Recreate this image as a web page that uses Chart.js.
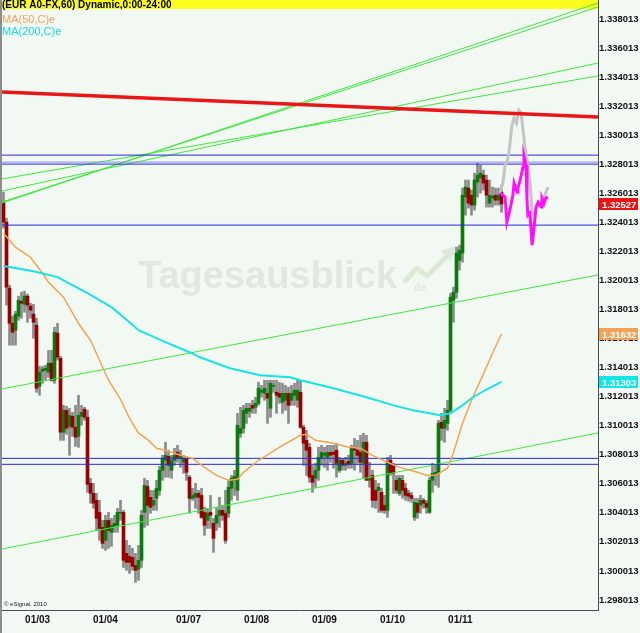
<!DOCTYPE html>
<html>
<head>
<meta charset="utf-8">
<script src="https://cdn.jsdelivr.net/npm/chart.js@4.4.1/dist/chart.umd.min.js"></script>
<style>
  html, body { margin: 0; padding: 0; background: #f2f8f2; overflow: hidden; }
  canvas { display: block; }
</style>
</head>
<body>
<canvas id="chart" width="640" height="633"></canvas>
<script>
const opens = [
  1.32540, 1.32402, 1.31948, 1.31706, 1.31658, 1.31755, 1.31858, 1.31837, 1.31893, 1.31824,
  1.31769, 1.31693, 1.31272, 1.31376, 1.31383, 1.31369, 1.31431, 1.31314, 1.31638, 1.31465,
  1.30956, 1.31107, 1.30997, 1.31066, 1.30990, 1.30928, 1.31066, 1.31114, 1.31059, 1.30604,
  1.30535, 1.30487, 1.30404, 1.30301, 1.30211, 1.30349, 1.30267, 1.30308, 1.30315, 1.30398,
  1.30404, 1.30122, 1.30101, 1.30094, 1.30039, 1.30012, 1.30074, 1.30404, 1.30583, 1.30508,
  1.30453, 1.30501, 1.30556, 1.30694, 1.30763, 1.30790, 1.30694, 1.30763, 1.30818, 1.30776,
  1.30749, 1.30776, 1.30646, 1.30501, 1.30508, 1.30535, 1.30521, 1.30404, 1.30349, 1.30404,
  1.30329, 1.30329, 1.30384, 1.30418, 1.30398, 1.30398, 1.30570, 1.30625, 1.30556, 1.30949,
  1.30983, 1.31086, 1.31100, 1.31141, 1.31128, 1.31155, 1.31231, 1.31224, 1.31224, 1.31121,
  1.31272, 1.31231, 1.31224, 1.31162, 1.31176, 1.31224, 1.31176, 1.31210, 1.31176, 1.31231,
  1.30990, 1.30900, 1.30852, 1.30659, 1.30639, 1.30694, 1.30776, 1.30797, 1.30783, 1.30818,
  1.30818, 1.30832, 1.30694, 1.30763, 1.30728, 1.30756, 1.30742, 1.30852, 1.30832, 1.30818,
  1.30742, 1.30887, 1.30625, 1.30659, 1.30556, 1.30556, 1.30542, 1.30453, 1.30418, 1.30763,
  1.30728, 1.30625, 1.30535, 1.30625, 1.30570, 1.30535, 1.30521, 1.30370, 1.30467, 1.30453,
  1.30487, 1.30467, 1.30404, 1.30625, 1.30659, 1.30673, 1.31024, 1.30983, 1.31017, 1.31107,
  1.31865, 1.31920, 1.32141, 1.32189, 1.32575, 1.32637, 1.32588, 1.32520, 1.32678, 1.32706,
  1.32726, 1.32692, 1.32533, 1.32568, 1.32588, 1.32554, 1.32609
];
const highs = [
  1.32609, 1.32430, 1.31969, 1.31755, 1.31789, 1.31893, 1.31920, 1.31927, 1.31907, 1.31844,
  1.31837, 1.31741, 1.31410, 1.31410, 1.31417, 1.31520, 1.31520, 1.31679, 1.31706, 1.31479,
  1.31141, 1.31135, 1.31121, 1.31093, 1.31141, 1.31210, 1.31141, 1.31128, 1.31107, 1.30639,
  1.30604, 1.30535, 1.30487, 1.30349, 1.30384, 1.30404, 1.30363, 1.30384, 1.30432, 1.30487,
  1.30418, 1.30211, 1.30177, 1.30156, 1.30122, 1.30177, 1.30418, 1.30639, 1.30625, 1.30556,
  1.30556, 1.30625, 1.30721, 1.30797, 1.30887, 1.30832, 1.30797, 1.30845, 1.30866, 1.30832,
  1.30797, 1.30783, 1.30659, 1.30570, 1.30604, 1.30556, 1.30570, 1.30439, 1.30432, 1.30521,
  1.30363, 1.30439, 1.30508, 1.30453, 1.30556, 1.30625, 1.30659, 1.30694, 1.31086, 1.31128,
  1.31141, 1.31155, 1.31155, 1.31176, 1.31197, 1.31300, 1.31279, 1.31314, 1.31314, 1.31314,
  1.31314, 1.31314, 1.31300, 1.31293, 1.31279, 1.31266, 1.31279, 1.31293, 1.31314, 1.31314,
  1.31004, 1.30969, 1.30880, 1.30728, 1.30742, 1.30852, 1.30866, 1.30852, 1.30866, 1.30866,
  1.30866, 1.30880, 1.30783, 1.30776, 1.30783, 1.30797, 1.30866, 1.30914, 1.30900, 1.30935,
  1.30949, 1.30935, 1.30749, 1.30694, 1.30625, 1.30604, 1.30570, 1.30521, 1.30783, 1.30797,
  1.30742, 1.30659, 1.30659, 1.30659, 1.30604, 1.30556, 1.30542, 1.30501, 1.30501, 1.30521,
  1.30501, 1.30487, 1.30646, 1.30742, 1.30728, 1.31038, 1.31086, 1.31121, 1.31176, 1.31913,
  1.31955, 1.32230, 1.32244, 1.32637, 1.32692, 1.32692, 1.32623, 1.32740, 1.32809, 1.32795,
  1.32761, 1.32726, 1.32692, 1.32644, 1.32637, 1.32637, 1.32657
];
const lows = [
  1.32361, 1.31831, 1.31555, 1.31555, 1.31555, 1.31727, 1.31741, 1.31782, 1.31713, 1.31741,
  1.31603, 1.31231, 1.31211, 1.31293, 1.31314, 1.31335, 1.31307, 1.31293, 1.31452, 1.30900,
  1.30900, 1.30942, 1.30797, 1.30928, 1.30859, 1.30852, 1.31004, 1.31038, 1.30542, 1.30467,
  1.30432, 1.30280, 1.30211, 1.30156, 1.30143, 1.30156, 1.30170, 1.30267, 1.30267, 1.30349,
  1.30025, 1.30005, 1.29984, 1.30005, 1.29922, 1.29936, 1.30025, 1.30301, 1.30315, 1.30398,
  1.30418, 1.30418, 1.30521, 1.30625, 1.30646, 1.30646, 1.30639, 1.30728, 1.30749, 1.30714,
  1.30673, 1.30625, 1.30398, 1.30487, 1.30432, 1.30398, 1.30363, 1.30246, 1.30294, 1.30294,
  1.30129, 1.30280, 1.30301, 1.30349, 1.30191, 1.30370, 1.30487, 1.30521, 1.30487, 1.30921,
  1.30949, 1.31017, 1.31059, 1.31086, 1.31086, 1.31141, 1.31197, 1.31176, 1.31017, 1.31059,
  1.31231, 1.31086, 1.31155, 1.31086, 1.31107, 1.31017, 1.31141, 1.31141, 1.31128, 1.30983,
  1.30728, 1.30659, 1.30611, 1.30542, 1.30577, 1.30625, 1.30728, 1.30714, 1.30694, 1.30749,
  1.30708, 1.30646, 1.30680, 1.30694, 1.30694, 1.30708, 1.30708, 1.30694, 1.30742, 1.30680,
  1.30639, 1.30625, 1.30577, 1.30439, 1.30432, 1.30404, 1.30404, 1.30398, 1.30370, 1.30659,
  1.30535, 1.30535, 1.30521, 1.30501, 1.30487, 1.30480, 1.30474, 1.30349, 1.30363, 1.30398,
  1.30432, 1.30398, 1.30398, 1.30542, 1.30590, 1.30577, 1.30900, 1.30887, 1.30969, 1.31086,
  1.31713, 1.31879, 1.32072, 1.32127, 1.32451, 1.32499, 1.32451, 1.32485, 1.32575, 1.32602,
  1.32623, 1.32506, 1.32506, 1.32506, 1.32520, 1.32520, 1.32471
];
const closes = [
  1.32402, 1.31955, 1.31706, 1.31644, 1.31769, 1.31865, 1.31844, 1.31893, 1.31831, 1.31796,
  1.31713, 1.31259, 1.31369, 1.31390, 1.31397, 1.31431, 1.31314, 1.31644, 1.31472, 1.30956,
  1.31107, 1.30983, 1.31072, 1.30990, 1.30921, 1.31072, 1.31093, 1.31059, 1.30597, 1.30535,
  1.30467, 1.30363, 1.30294, 1.30191, 1.30349, 1.30280, 1.30315, 1.30329, 1.30404, 1.30404,
  1.30074, 1.30060, 1.30060, 1.30032, 1.30005, 1.30074, 1.30384, 1.30590, 1.30453, 1.30439,
  1.30487, 1.30570, 1.30694, 1.30776, 1.30797, 1.30728, 1.30763, 1.30797, 1.30783, 1.30797,
  1.30776, 1.30680, 1.30501, 1.30521, 1.30535, 1.30508, 1.30370, 1.30315, 1.30398, 1.30384,
  1.30225, 1.30384, 1.30418, 1.30384, 1.30211, 1.30577, 1.30639, 1.30652, 1.31004, 1.30983,
  1.31107, 1.31121, 1.31121, 1.31121, 1.31155, 1.31259, 1.31245, 1.31259, 1.31190, 1.31293,
  1.31279, 1.31210, 1.31197, 1.31224, 1.31224, 1.31141, 1.31224, 1.31245, 1.31245, 1.30990,
  1.30880, 1.30832, 1.30646, 1.30611, 1.30694, 1.30783, 1.30818, 1.30811, 1.30818, 1.30797,
  1.30804, 1.30742, 1.30763, 1.30728, 1.30742, 1.30735, 1.30845, 1.30832, 1.30797, 1.30749,
  1.30887, 1.30625, 1.30639, 1.30487, 1.30487, 1.30577, 1.30418, 1.30418, 1.30749, 1.30673,
  1.30673, 1.30556, 1.30639, 1.30556, 1.30521, 1.30515, 1.30501, 1.30473, 1.30404, 1.30487,
  1.30467, 1.30439, 1.30625, 1.30673, 1.30680, 1.31017, 1.30983, 1.31038, 1.31107, 1.31886,
  1.31920, 1.32189, 1.32210, 1.32588, 1.32644, 1.32533, 1.32520, 1.32692, 1.32726, 1.32740,
  1.32671, 1.32588, 1.32588, 1.32582, 1.32554, 1.32588, 1.32527
];

// MA(50) und MA(200): Stützpunkte (Kerzenindex, Kurs)
const maFastX = [0, 4, 9, 13, 15, 20, 25, 29, 32, 35, 39, 42, 45, 48, 51, 54, 59, 63, 67, 71, 75, 78, 80, 85,
  93, 99, 101, 104, 110, 115, 119, 123, 128, 132, 138, 141, 144, 148, 149.5, 153, 156, 159.5, 163, 166];
const maFastY = [1.32326, 1.32230, 1.32161, 1.32051, 1.31989, 1.31886, 1.31706, 1.31589, 1.31452, 1.31314,
  1.31183, 1.31052, 1.30949, 1.30907, 1.30845, 1.30832, 1.30797, 1.30776, 1.30714, 1.30659, 1.30625,
  1.30632, 1.30680, 1.30763, 1.30866, 1.30935, 1.30942, 1.30900, 1.30880, 1.30852, 1.30845, 1.30797,
  1.30749, 1.30714, 1.30680, 1.30659, 1.30659, 1.30708, 1.30783, 1.31017, 1.31176, 1.31335, 1.31500, 1.31632];
const maSlowX = [0, 10, 18, 28, 36, 42, 45, 54, 62, 65.5, 75.5, 85.5, 95.5, 99, 110, 121, 130, 136.5, 142,
  145.5, 149, 153, 156, 160.5, 166];
const maSlowY = [1.32100, 1.32065, 1.32024, 1.31914, 1.31817, 1.31713, 1.31658, 1.31576, 1.31507, 1.31472,
  1.31397, 1.31348, 1.31335, 1.31314, 1.31259, 1.31197, 1.31141, 1.31107, 1.31086, 1.31073, 1.31086,
  1.31141, 1.31190, 1.31245, 1.31303];

// Projektionen (grau und magenta)
const projGrayX = [165.5, 166.5, 167.2, 168, 168.7, 169.5, 170.2, 171, 171.8, 172.5, 173.2, 173.8, 174.5,
  175.5, 176.2, 176.7, 177.8, 178.8, 180.2, 181.5];
const projGrayY = [1.32602, 1.32678, 1.32795, 1.32830, 1.32919, 1.33071, 1.33119, 1.33085, 1.33174, 1.33160,
  1.33036, 1.32919, 1.32843, 1.32671, 1.32485, 1.32451, 1.32506, 1.32540, 1.32575, 1.32644];
const projPinkX = [165.5, 167.2, 167.8, 168.8, 169.8, 170.2, 171.2, 171.5, 172.2, 173.2, 173.5, 174.2, 174.5,
  174.8, 175.5, 176.2, 176.8, 177.5, 178.2, 179.2, 179.5, 180.2, 180.8, 181.5];
const projPinkY = [1.32602, 1.32575, 1.32402, 1.32485, 1.32588, 1.32671, 1.32609, 1.32637, 1.32692, 1.32782,
  1.32857, 1.32795, 1.32554, 1.32451, 1.32465, 1.32244, 1.32347, 1.32506, 1.32540, 1.32506, 1.32568,
  1.32533, 1.32568, 1.32575];

// Horizontale Linien und Trendlinien (Anfangs-/Endkurs)
const blueLevels = [1.32864, 1.32816, 1.32802, 1.32382, 1.30776, 1.30735];
const redTrend = [1.33299, 1.33126];
const greenTrends = [
  [1.32534, 1.33911],
  [1.32541, 1.33884],
  [1.32617, 1.33498],
  [1.32700, 1.33409],
  [1.31254, 1.32039],
  [1.30152, 1.30951]
];

// Achsen
const yTickValues = [1.298013, 1.300013, 1.302013, 1.304013, 1.306013, 1.308013, 1.310013, 1.312013,
  1.314013, 1.316013, 1.318013, 1.320013, 1.322013, 1.324013, 1.326013, 1.328013, 1.330013, 1.332013,
  1.334013, 1.336013, 1.338013];
const xTickPos = [7.2, 29.8, 57.5, 80.2, 102.8, 125.5, 148.2];
const xTickLabels = ['01/03', '01/04', '01/07', '01/08', '01/09', '01/10', '01/11'];

const X_MIN = -0.5, X_MAX = 198.17;
const Y_MIN = 1.29732, Y_MAX = 1.33932;
const AXIS_FONT = "'Liberation Sans', Arial, sans-serif";
const UP = '#0b7a0b', DOWN = '#980000';

const wickData = opens.map((o, i) => ({ x: i, y: [lows[i], highs[i]] }));
const bodyData = opens.map((o, i) => ({ x: i, y: [o, closes[i]] }));
const bodyColors = opens.map((o, i) => closes[i] >= o ? UP : DOWN);

const seg = (a, b) => [{ x: X_MIN, y: a }, { x: X_MAX, y: b }];
const pts = (xs, ys) => xs.map((x, i) => ({ x: x, y: ys[i] }));
const lineDs = (data, color, width, order) => ({
  type: 'line', data: data, borderColor: color, borderWidth: width,
  pointRadius: 0, tension: 0, fill: false, order: order
});

const datasets = [];
greenTrends.forEach(t => datasets.push(lineDs(seg(t[0], t[1]), '#3fe83f', 1, 5)));
blueLevels.forEach((v, i) => datasets.push(lineDs(seg(v, v), i === 1 ? '#8a8af0' : '#2626e0', 1, 4)));
datasets.push({ type: 'bar', data: wickData, backgroundColor: '#8a8a8a', barThickness: 2, grouped: false, order: 9 });
datasets.push({ type: 'bar', data: bodyData, backgroundColor: bodyColors, barThickness: 3, grouped: false, minBarLength: 1, order: 8 });
datasets.push(lineDs(pts(maSlowX, maSlowY), '#19e3e3', 2, 3));
datasets.push(lineDs(pts(maFastX, maFastY), '#f4a450', 1.5, 3));
datasets.push(lineDs(pts(projGrayX, projGrayY), '#c4c4c4', 3, 2));
datasets.push(lineDs(pts(projPinkX, projPinkY), '#ff10ff', 3, 1));
datasets.push(lineDs(seg(redTrend[0], redTrend[1]), '#e81616', 3.5, 0));

// Hintergrund, Titel, Legende, Wasserzeichen, Kurs-Kästchen
const decor = {
  id: 'decor',
  beforeDraw(chart) {
    const c = chart.ctx;
    c.save();
    c.fillStyle = '#f2f8f2';
    c.fillRect(0, 0, chart.width, chart.height);
    c.restore();
  },
  beforeDatasetsDraw(chart) {
    const c = chart.ctx;
    c.save();
    // Wasserzeichen
    c.fillStyle = '#e2e8e1';
    c.font = "bold 38px 'Liberation Sans', sans-serif";
    c.textBaseline = 'alphabetic';
    c.fillText('Tagesausblick', 138, 288);
    c.font = "bold 11px 'Liberation Sans', sans-serif";
    c.fillText('de', 414, 291);
    c.strokeStyle = '#dde8d8';
    c.lineWidth = 5;
    c.lineJoin = 'round';
    c.beginPath();
    c.moveTo(404, 282); c.lineTo(417, 268); c.lineTo(427, 276); c.lineTo(447, 256);
    c.stroke();
    c.fillStyle = '#dde8d8';
    c.beginPath();
    c.moveTo(456, 246); c.lineTo(441, 251); c.lineTo(451, 261); c.closePath();
    c.fill();
    // Titelband
    c.fillStyle = '#fcfc1e';
    c.fillRect(0, 0, 598, 9);
    c.fillStyle = '#000';
    c.font = "bold 10px 'Liberation Sans', sans-serif";
    c.fillText('(EUR A0-FX,60) Dynamic,0:00-24:00', 2, 8);
    c.font = "11px 'Liberation Sans', sans-serif";
    c.fillStyle = '#f0a462';
    c.fillText('MA(50,C)e', 2, 23);
    c.fillStyle = '#10dede';
    c.fillText('MA(200,C)e', 2, 35);
    c.restore();
  },
  afterDraw(chart) {
    const c = chart.ctx;
    const y = chart.scales.y;
    c.save();
    c.fillStyle = '#8c8c8c';
    c.fillRect(0, 0, 2, chart.height);
    c.fillStyle = '#222';
    c.font = "6px 'Liberation Sans', sans-serif";
    c.fillText('\u00a9 eSignal, 2010', 4, 606);
    const boxes = [
      [closes[closes.length - 1], '#ee1414'],
      [maFastY[maFastY.length - 1], '#f2a256'],
      [maSlowY[maSlowY.length - 1], '#12e6e6']
    ];
    c.font = "bold 9.5px " + AXIS_FONT;
    c.textBaseline = 'middle';
    boxes.forEach(b => {
      const py = Math.round(y.getPixelForValue(b[0]));
      c.fillStyle = b[1];
      c.fillRect(599, py - 6, 39, 12);
      c.fillStyle = '#fff';
      c.fillText(b[0].toFixed(5), 602, py + 1);
    });
    c.restore();
  }
};

new Chart(document.getElementById('chart'), {
  type: 'bar',
  data: { datasets: datasets },
  options: {
    responsive: false,
    animation: false,
    layout: { padding: { left: 2, right: 0, top: 0, bottom: 0 } },
    plugins: { legend: { display: false }, tooltip: { enabled: false } },
    scales: {
      x: {
        type: 'linear', min: X_MIN, max: X_MAX, offset: false,
        grid: { display: false, drawTicks: false },
        border: { display: true, color: '#4a4a4a', width: 1 },
        ticks: {
          autoSkip: false, maxRotation: 0, align: 'start', padding: 4, color: '#111',
          font: { family: AXIS_FONT, size: 10, weight: 'bold' },
          callback: (v, i) => xTickLabels[i]
        },
        afterBuildTicks: s => { s.ticks = xTickPos.map(v => ({ value: v })); },
        afterFit: s => { s.height = 23; s.paddingLeft = 0; s.paddingRight = 0; }
      },
      y: {
        type: 'linear', position: 'right', min: Y_MIN, max: Y_MAX, beginAtZero: false,
        grid: { display: false, drawTicks: false },
        border: { display: true, color: '#4a4a4a', width: 1 },
        ticks: {
          autoSkip: false, padding: 1, crossAlign: 'near', color: '#111',
          font: { family: AXIS_FONT, size: 9.5, weight: 'bold' },
          callback: v => v.toFixed(6)
        },
        afterBuildTicks: s => { s.ticks = yTickValues.map(v => ({ value: v })); },
        afterFit: s => { s.width = 42; s.paddingTop = 0; s.paddingBottom = 0; }
      }
    }
  },
  plugins: [decor]
});
</script>
</body>
</html>
